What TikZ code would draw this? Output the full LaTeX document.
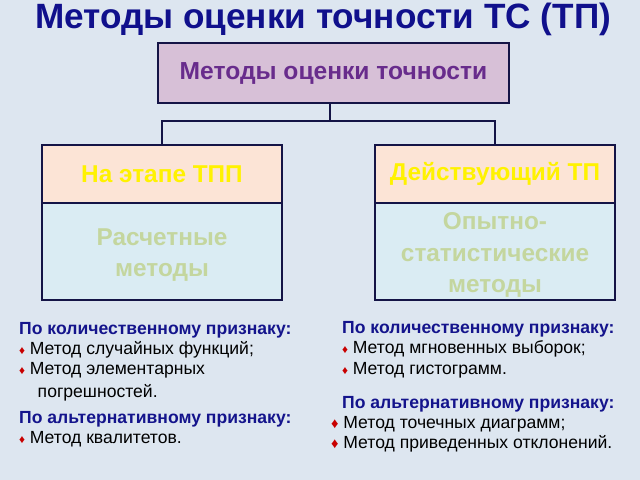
\documentclass[tikz,border=0pt]{standalone}
\usepackage{fontspec}
\setmainfont{Liberation Sans}
\definecolor{bgcol}{RGB}{221,230,240}
\definecolor{titlecol}{RGB}{16,16,140}
\definecolor{topfill}{RGB}{215,192,215}
\definecolor{toptext}{RGB}{104,44,140}
\definecolor{headfill}{RGB}{252,228,214}
\definecolor{bodyfill}{RGB}{218,236,243}
\definecolor{bodytext}{RGB}{196,214,158}
\definecolor{framecol}{RGB}{20,20,70}
\definecolor{headcol}{RGB}{20,20,140}
\definecolor{bulletcol}{RGB}{200,0,0}
\tikzset{
  frame/.style={draw=framecol, line width=1.2pt, inner sep=0pt, align=center, font=\bfseries},
  topbox/.style={frame, fill=topfill, text=toptext, minimum width=351*0.03cm, minimum height=60*0.03cm, font=\fontsize{21}{24}\selectfont\bfseries},
  headbox/.style={frame, fill=headfill, text=yellow, minimum width=240*0.03cm, minimum height=58*0.03cm, font=\fontsize{20.8}{24}\selectfont\bfseries},
  bodybox/.style={frame, fill=bodyfill, text=bodytext, minimum width=240*0.03cm, minimum height=97*0.03cm, font=\fontsize{20.8}{27}\selectfont\bfseries},
  link/.style={draw=framecol, line width=1pt},
  hd/.style={anchor=base west, inner sep=0pt, text=headcol, font=\fontsize{15}{18}\selectfont\bfseries},
  it/.style={anchor=base west, inner sep=0pt, font=\fontsize{15}{18}\selectfont}
}
\newcommand{\bul}{{\color{bulletcol}\fontsize{10}{12}\selectfont♦}\hspace{4pt}}
\newcommand{\bigbul}{{\color{bulletcol}\fontsize{12.5}{12}\selectfont♦}\hspace{4pt}}
\newcommand{\lowstrut}{\rule{0pt}{20.5pt}}
\begin{document}
\begin{tikzpicture}[x=0.03cm, y=-0.03cm]
\fill[bgcol] (0,0) rectangle (640,480);
\useasboundingbox (0,0) rectangle (640,480);
% title
\node (title) [text=titlecol, font=\fontsize{30}{34}\selectfont\bfseries] at (323,19) {Методы оценки точности ТС (ТП)};
% boxes
\node (top) [topbox] at (333.5,73) {Методы оценки точности};
\node (lhead) [headbox] at (162,174) {На этапе ТПП};
\node (lbody) [bodybox] at (162,251.5) {\lowstrut Расчетные\\методы};
\node (rhead) [headbox] at (495,174) {Действующий ТП};
\node (rbody) [bodybox] at (495,251.5) {\lowstrut Опытно-\\статистические\\методы};
% connectors
\coordinate (fork) at (330,121);
\draw[link] (top.south -| fork) -- (fork);
\draw[link] (fork) -| (lhead.north);
\draw[link] (fork) -| (rhead.north);
% left texts
\node (lq) [hd] at (19,334) {По количественному признаку:};
\node (l1) [it] at (19,354) {\bul Метод случайных функций;};
\node (l2) [it] at (19,374) {\bul Метод элементарных};
\node (l3) [it] at (37.5,397) {погрешностей.};
\node (la) [hd] at (19,423) {По альтернативному признаку:};
\node (l4) [it] at (19,443) {\bul Метод квалитетов.};
% right texts
\node (rq) [hd] at (342,333) {По количественному признаку:};
\node (r1) [it] at (342,353) {\bul Метод мгновенных выборок;};
\node (r2) [it] at (342,374) {\bul Метод гистограмм.};
\node (ra) [hd] at (342,408) {По альтернативному признаку:};
\node (r3) [it] at (331,428) {\bigbul Метод точечных диаграмм;};
\node (r4) [it] at (331,448) {\bigbul Метод приведенных отклонений.};
\end{tikzpicture}
\end{document}
